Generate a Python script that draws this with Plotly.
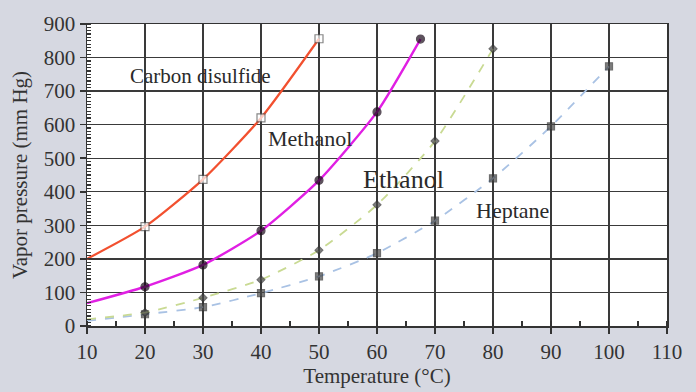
import plotly.graph_objects as go

cs_t = [10, 20, 30, 40, 50]
cs_p = [200, 296, 437, 620, 856]
me_t = [10, 20, 30, 40, 50, 60, 67.5]
me_p = [68, 117, 182, 284, 434, 638, 855]
et_t = [10, 20, 30, 40, 50, 60, 70, 80]
et_p = [20, 40, 84, 138, 226, 361, 551, 826]
he_t = [10, 20, 30, 40, 50, 60, 70, 80, 90, 100]
he_p = [15, 35, 56, 98, 148, 217, 314, 440, 595, 774]

labels = ["Carbon disulfide", "Methanol", "Ethanol", "Heptane"]
label_x = [29.5, 48.4, 64.5, 83.4]
label_y = [745, 560, 437, 343]
label_size = [21, 22, 26, 22]

x_ticks = list(range(10, 111, 10))
y_ticks = list(range(0, 901, 100))

SERIF = "Liberation Serif"
fig = go.Figure()

def series(t, p, color, dash, width, msym, msize, mcolor, mline):
    sizes = [0] + [msize] * (len(t) - 1)
    fig.add_trace(go.Scatter(
        x=t, y=p, mode="lines+markers",
        line=dict(color=color, width=width, dash=dash, shape="spline", smoothing=0.6),
        marker=dict(symbol=msym, size=sizes, color=mcolor, line=dict(color=mline, width=1.2)),
        showlegend=False, hoverinfo="skip"))

series(he_t, he_p, "#a9c2e4", "dash", 1.8, "square", 7, "#474747", "#333333")
series(et_t, et_p, "#c9da93", "dash", 1.8, "diamond", 6, "#474747", "#333333")
series(cs_t, cs_p, "#f2502f", "solid", 2.2, "square", 8, "#ffffff", "#555555")
series(me_t, me_p, "#e01fe3", "solid", 2.4, "circle", 8, "#1a0a1a", "#1a0a1a")

for txt, x, y, s in zip(labels, label_x, label_y, label_size):
    fig.add_annotation(x=x, y=y, text=txt, showarrow=False,
                       font=dict(family=SERIF, size=s, color="#2a2a2a"))

axis_common = dict(showline=True, linecolor="#333333", linewidth=1.5, mirror=True,
                   showgrid=True, gridcolor="#3a3a3a", gridwidth=1.3, zeroline=False,
                   tickfont=dict(family=SERIF, size=21, color="#333333"),
                   ticks="outside", tickcolor="#333333", tickwidth=1.5, ticklen=6)

fig.update_xaxes(range=[10, 110], tickvals=x_ticks, ticktext=[str(v) for v in x_ticks],
                 title=dict(text="Temperature (°C)", font=dict(family=SERIF, size=21, color="#333333"), standoff=2),
                 minor=dict(dtick=5, tick0=0, ticks="inside", ticklen=5, tickcolor="#333333", tickwidth=1.5, showgrid=False),
                 **axis_common)
fig.update_yaxes(range=[0, 900], tickvals=y_ticks, ticktext=[str(v) for v in y_ticks],
                 title=dict(text="Vapor pressure (mm Hg)", font=dict(family=SERIF, size=21, color="#333333"), standoff=10),
                 minor=dict(dtick=10, tick0=0, ticks="inside", ticklen=4, tickcolor="#333333", tickwidth=1.2, showgrid=False),
                 **axis_common)

fig.update_layout(width=696, height=392, margin=dict(l=87, r=29, t=22, b=63),
                  paper_bgcolor="#d6d8e1", plot_bgcolor="#ffffff")

fig.write_html("out.html", config={"displayModeBar": False, "staticPlot": True},
               post_script="document.body.style.margin='0';document.body.style.overflow='hidden';")
